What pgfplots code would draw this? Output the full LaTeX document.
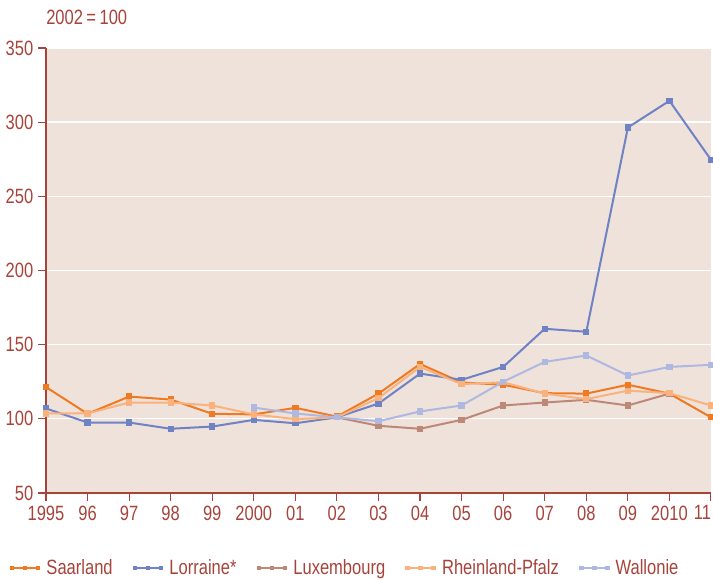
\documentclass[border=0pt]{standalone}
\usepackage{pgfplots}
\pgfplotsset{compat=1.18}
\usepackage{fontspec}
\setmainfont{Liberation Sans}[FakeStretch=0.8]
\definecolor{saar}{HTML}{F07A22}
\definecolor{lorr}{HTML}{6E82C4}
\definecolor{lux}{HTML}{BE8878}
\definecolor{rhein}{HTML}{F9B27E}
\definecolor{wall}{HTML}{AEB8E0}
\definecolor{bg}{HTML}{EFE2DB}
\definecolor{txt}{HTML}{A6433A}
\begin{document}
\begin{tikzpicture}
\useasboundingbox (-34.5pt,-66pt) rectangle (500.25pt,369.75pt);
\begin{axis}[
  at={(0,0)}, anchor=south west,
  width=498.75pt, height=333.75pt, scale only axis,
  xmin=1995, xmax=2011, ymin=50, ymax=350,
  xtick={1995,...,2011},
  xticklabels={1995,96,97,98,99,2000,01,02,03,04,05,06,07,08,09,2010,\makebox[0pt][r]{11}},
  ytick={50,100,...,350},
  axis x line*=bottom, axis y line*=left,
  axis line style={txt, line width=1pt, -},
  tick style={txt, line width=0.8pt},
  tick align=outside, major tick length=6pt,
  ymajorgrids, grid style={white, line width=1pt},
  axis background/.style={fill=bg},
  ticklabel style={font=\fontsize{15.5}{18}\selectfont, text=txt},
  /pgf/number format/assume math mode=true,
  every axis plot/.append style={line width=1.5pt, mark=square*, mark size=1.6pt},
  legend columns=5,
  legend style={draw=none, fill=none, inner sep=0pt,
    at={(-0.054,-0.1685)}, anchor=west,
    font=\fontsize{15.5}{18}\selectfont, text=txt,
    /tikz/every odd column/.append style={column sep=3pt},
    /tikz/every even column/.append style={column sep=13.5pt}},
  legend image code/.code={\draw[#1, line width=1pt, mark size=1.3pt] plot coordinates {(0pt,0pt) (9.75pt,0pt) (19.5pt,0pt)};},
]
\addplot[saar, mark options={fill=saar}] coordinates {
(1995,121.4) (1996,103.4) (1997,115) (1998,113) (1999,103.4) (2000,103) (2001,107.4) (2002,101.5) (2003,117) (2004,137) (2005,124.5) (2006,123) (2007,117.3) (2008,117) (2009,123) (2010,117) (2011,101)};
\addlegendentry{Saarland}
\addplot[lorr, mark options={fill=lorr}] coordinates {
(1995,107) (1996,97.5) (1997,97.5) (1998,93.3) (1999,94.8) (2000,99.3) (2001,97) (2002,101) (2003,110.3) (2004,130.5) (2005,126.3) (2006,135) (2007,160.7) (2008,158.7) (2009,296.4) (2010,314.4) (2011,274.6)};
\addlegendentry{Lorraine*}
\addplot[lux, mark options={fill=lux}] coordinates {
(2002,101) (2003,95.3) (2004,93.3) (2005,99.3) (2006,109) (2007,111) (2008,112.8) (2009,109) (2010,117)};
\addlegendentry{Luxembourg}
\addplot[rhein, mark options={fill=rhein}] coordinates {
(1995,103.6) (1996,103.6) (1997,111) (1998,111) (1999,109) (2000,103) (2001,99.8) (2002,101) (2003,114) (2004,135) (2005,123.4) (2006,124.7) (2007,117) (2008,113.3) (2009,119) (2010,117.3) (2011,109)};
\addlegendentry{Rheinland-Pfalz}
\addplot[wall, mark options={fill=wall}] coordinates {
(2000,107.6) (2001,103.6) (2002,101) (2003,98.4) (2004,105) (2005,109) (2006,125) (2007,138.4) (2008,142.7) (2009,129.2) (2010,135) (2011,136.4)};
\addlegendentry{Wallonie}
\end{axis}
\node[anchor=west, text=txt, font=\fontsize{15.5}{18}\selectfont, inner sep=0pt] at ([yshift=23.25pt]0,333.75pt) {2002\,=\,100};
\end{tikzpicture}
\end{document}
